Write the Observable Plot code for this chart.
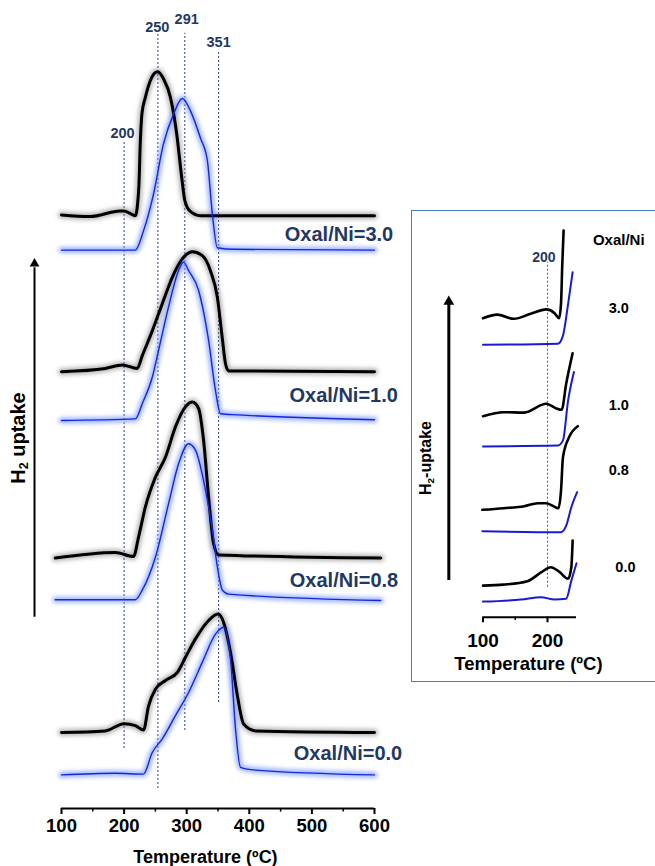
<!DOCTYPE html>
<html><head><meta charset="utf-8">
<script src="https://cdn.jsdelivr.net/npm/d3@7"></script>
<script src="https://cdn.jsdelivr.net/npm/@observablehq/plot@0.6"></script>
<style>
body{margin:0;width:655px;height:866px;overflow:hidden;background:#fff;position:relative;font-family:"Liberation Sans",Arial,sans-serif}
#main{position:absolute;left:0;top:0}
#insetBox{position:absolute;left:411px;top:210px;width:300px;height:472px;border:1px solid #4a7ebb;box-sizing:border-box}
#inset{position:absolute;left:412px;top:210px}
.vlab{position:absolute;font-weight:bold;white-space:nowrap;transform:translate(-50%,-50%) rotate(-90deg);color:#000;line-height:1}
.vlab sub{font-size:0.62em;vertical-align:-0.25em}
</style></head><body>
<div id="main"></div>
<div id="insetBox"></div>
<div id="inset"></div>
<div class="vlab" style="left:19px;top:438px;font-size:20px">H<sub>2</sub> uptake</div>
<div class="vlab" style="left:427px;top:458px;font-size:16px">H<sub>2</sub>-uptake</div>
<script>
// ---------- data ----------
const ratios = ["3.0", "1.0", "0.8", "0.0"];
const mainLabels = ["Oxal/Ni=3.0", "Oxal/Ni=1.0", "Oxal/Ni=0.8", "Oxal/Ni=0.0"];

// main panel: [temperature °C, signal above own baseline]
const mainBlack30 = [[100,0.1],[146,-0.1],[194,0.6],[200,0.6],[218,0],[223.5,3.5],[226,9.4],[228.5,12.75],[234,14.8],[242,16.9],[250,17.9],[254,18.0],[263,17.1],[274,14.8],[284,10.25],[292,4.8],[297,1.9],[305,0.6],[322,0],[600,0]];
const mainBlue30 = [[100,0],[218,0],[231,2.4],[247,7.0],[263,13.3],[279,17.0],[293,18.95],[306,17.4],[322,14.0],[333,11.2],[341,4.5],[349,0.3],[375,0.1],[600,0]];
const mainBlack10 = [[100,0],[170,0.4],[197,0.85],[221,0.4],[229,2.0],[245,5.1],[261,8.5],[277,11.8],[293,14.1],[309,15.0],[325,14.5],[338,12.6],[349,9.3],[356,4.75],[362,1.0],[367,0.1],[600,0]];
const mainBlue10 = [[100,0],[218,0.2],[229,2.1],[245,5.4],[255,8.75],[271,14.2],[287,18.75],[295,19.8],[303,18.75],[319,16.25],[335,10],[346,3.75],[354,0.85],[383,0.7],[600,0.1]];
const mainBlack08 = [[90,0],[186,0.7],[215,0.2],[223,2.6],[234,6.4],[250,10.1],[266,12.6],[282,16.4],[298,18.9],[309,19.5],[319,18.7],[327,14.7],[335,7.6],[343,1.8],[351,0.4],[610,0]];
const mainBlue08 = [[90,0],[218,0],[229,1.2],[250,5.3],[271,12],[287,17],[303,19.5],[314,18.7],[330,13.7],[341,8.7],[349,4.1],[357,1.2],[367,0.7],[610,-0.1]];
const mainBlack00 = [[100,0],[170,0.2],[200,1.1],[218,0.85],[231,0.3],[239,3.3],[250,5.4],[266,6.5],[285,7.5],[298,9.4],[314,11.7],[335,14.0],[350,14.8],[359,13.75],[370,10],[381,4.6],[391,1.05],[410,0.2],[600,0]];
const mainBlue00 = [[100,0],[186,0.2],[231,0.1],[245,2.8],[261,4.5],[282,7.4],[303,10.3],[325,14.1],[346,17.6],[359,18.45],[370,14.5],[378,5.75],[386,0.95],[410,0.6],[600,0]];
const mainBlackOffset = [74.1, 54.6, 31.3, 9.5];
const mainBlueOffset = [69.8, 48.5, 26.1, 4.2];

// reference temperatures marked by dotted lines
const refLineT = [200, 254, 297, 351];
const refLabels = ["200", "250", "291", "351"];

// inset panel (low-temperature zoom)
const insetBlack30 = [[100,0],[122,0.9],[148,-0.15],[174,1.1],[198,2.2],[211,1.25],[218,0],[221,3.7],[223,13.7],[225,21.9]];
const insetBlue30 = [[100,0],[216,0.25],[224,2.3],[232,10.25],[239,18.15]];
const insetBlack10 = [[100,0],[132,1.0],[164,0.9],[198,3.1],[213,2.0],[222,1.6],[229,8.1],[239,15.75]];
const insetBlue10 = [[100,0],[216,0.2],[224,1.5],[232,11.5],[241,18.6]];
const insetBlack08 = [[99,0],[132,0.4],[164,0.9],[185,1.65],[198,1.65],[217,0.4],[221,4.8],[224,13.15],[234,18.3],[247,20.9]];
const insetBlue08 = [[99,0],[221,-0.25],[229,1.4],[237,6],[246,9.75]];
const insetBlack00 = [[100,0],[132,0.25],[169,1.1],[190,3.3],[205,4.6],[218,3.5],[232,1.7],[237,4.6],[239,11.25]];
const insetBlue00 = [[100,0],[159,0.5],[190,1.1],[211,0.5],[229,0.7],[237,5.25],[245,9.6]];
const insetBlackOffset = [74.75, 50.25, 26.85, 7.9];
const insetBlueOffset = [68.1, 42.7, 21.5, 3.9];

const mainTicks = [100, 200, 300, 400, 500, 600];
const mainMinorTicks = [150, 250, 350, 450, 550];
const insetTicks = [100, 200];
const insetMinorTicks = [150];

// ---------- helpers ----------
const stack = (curves, offsets) =>
  curves.flatMap((c, i) => c.map(([T, s]) => ({T, v: offsets[i] + s, ratio: ratios[i]})));

const navy = "#1f3864";
const font = "'Liberation Sans', Arial, sans-serif";

function addBlur(svg) {
  const s = d3.select(svg);
  const f = s.insert("defs", ":first-child").append("filter")
    .attr("id", "glowBlur").attr("x", "-20%").attr("y", "-20%").attr("width", "140%").attr("height", "140%");
  f.append("feGaussianBlur").attr("stdDeviation", 2.2);
  s.selectAll('g[aria-description="glow"]').attr("filter", "url(#glowBlur)");
  return svg;
}

// ---------- main panel ----------
const mainBlack = stack([mainBlack30, mainBlack10, mainBlack08, mainBlack00], mainBlackOffset);
const mainBlue = stack([mainBlue30, mainBlue10, mainBlue08, mainBlue00], mainBlueOffset);
const refTop = [83.5, 96.9, 96.9, 94.5];
const refBottom = [7.5, 2.5, 9.75, 13.25];
const refLabelPos = [[197.5, 84.4], [253, 97.6], [300, 98.6], [351, 95.75]];
const mainLabelPos = [[456.7, 71.7], [464.2, 51.6], [464.7, 28.5], [471.1, 6.84]];

const mainPlot = Plot.plot({
  width: 410, height: 866,
  marginLeft: 61, marginRight: 36, marginTop: 8, marginBottom: 58,
  x: {domain: [100, 600], label: null},
  y: {domain: [0, 100], axis: null},
  style: {fontFamily: font, fontWeight: "bold", background: "transparent", overflow: "visible"},
  marks: [
    Plot.ruleX(refLineT, {x: d => d, y1: (d, i) => refBottom[i], y2: (d, i) => refTop[i], stroke: "#2b3f8f", strokeWidth: 1, strokeDasharray: "2,2"}),
    Plot.line(mainBlack, {x: "T", y: "v", z: "ratio", stroke: "#777", strokeWidth: 7, strokeOpacity: 0.55, curve: "monotone-x", ariaDescription: "glow"}),
    Plot.line(mainBlue, {x: "T", y: "v", z: "ratio", stroke: "#7d9bff", strokeWidth: 6, strokeOpacity: 0.75, curve: "monotone-x", ariaDescription: "glow"}),
    Plot.line(mainBlack, {x: "T", y: "v", z: "ratio", stroke: "#000", strokeWidth: 3, curve: "monotone-x"}),
    Plot.line(mainBlue, {x: "T", y: "v", z: "ratio", stroke: "#1428d8", strokeWidth: 1.4, curve: "monotone-x"}),
    Plot.text(refLabels, {x: (d, i) => refLabelPos[i][0], y: (d, i) => refLabelPos[i][1], text: d => d, fill: navy, fontSize: 14.5, fontWeight: "bold"}),
    Plot.text(mainLabels, {x: (d, i) => mainLabelPos[i][0], y: (d, i) => mainLabelPos[i][1], text: d => d, textAnchor: "start", fill: navy, fontSize: 20, fontWeight: "bold"}),
    Plot.ruleY([0], {x1: 100, x2: 600, stroke: "#000", strokeWidth: 2}),
    Plot.ruleX(mainTicks, {x: d => d, y1: 0, y2: -0.75, stroke: "#000", strokeWidth: 2}),
    Plot.ruleX(mainMinorTicks, {x: d => d, y1: 0, y2: -0.45, stroke: "#000", strokeWidth: 1.5}),
    Plot.axisX({ticks: mainTicks, tickSize: 0, tickPadding: 10.5, fontSize: 18.5, fontWeight: "bold", label: null, tickFormat: d => String(d)}),
    Plot.text(["Temperature (ºC)"], {x: 330, y: -6.1, text: d => d, fontSize: 18, fontWeight: "bold", fill: "#000"}),
    Plot.ruleX([56.9], {x: d => d, y1: 23.9, y2: 67.6, stroke: "#000", strokeWidth: 2}),
    Plot.dot([56.9], {x: d => d, y: 68.1, symbol: "triangle", r: 3.6, fill: "#000", stroke: null})
  ]
});
document.getElementById("main").append(addBlur(mainPlot));

// ---------- inset panel ----------
const insetBlack = stack([insetBlack30, insetBlack10, insetBlack08, insetBlack00], insetBlackOffset);
const insetBlue = stack([insetBlue30, insetBlue10, insetBlue08, insetBlue00], insetBlueOffset);
const insetRatioPos = [[310.5, 77.1], [310.5, 52.9], [310.5, 36.7], [320.9, 12.5]];

const insetPlot = Plot.plot({
  width: 243, height: 472,
  marginLeft: 70.5, marginRight: 79, marginTop: 6.7, marginBottom: 65.3,
  x: {domain: [100, 245], label: null},
  y: {domain: [0, 100], axis: null},
  style: {fontFamily: font, fontWeight: "bold", background: "transparent", overflow: "visible"},
  marks: [
    Plot.ruleX([200], {x: d => d, y1: 7.5, y2: 88.75, stroke: "#4a5f9a", strokeWidth: 1, strokeDasharray: "2,2"}),
    Plot.text(["200"], {x: 194.3, y: 90, text: d => d, fill: navy, fontSize: 14, fontWeight: "bold"}),
    Plot.line(insetBlack, {x: "T", y: "v", z: "ratio", stroke: "#000", strokeWidth: 2.6, curve: "monotone-x"}),
    Plot.line(insetBlue, {x: "T", y: "v", z: "ratio", stroke: "#1a1ad0", strokeWidth: 2, curve: "monotone-x"}),
    Plot.text(["Oxal/Ni"], {x: 310.5, y: 94.35, text: d => d, fontSize: 15, fontWeight: "bold", fill: "#000"}),
    Plot.text(ratios, {x: (d, i) => insetRatioPos[i][0], y: (d, i) => insetRatioPos[i][1], text: d => d, fontSize: 14.5, fontWeight: "bold", fill: "#000"}),
    Plot.ruleY([0], {x1: 100, x2: 245, stroke: "#000", strokeWidth: 2}),
    Plot.ruleX(insetTicks, {x: d => d, y1: 0, y2: -1.4, stroke: "#000", strokeWidth: 2}),
    Plot.ruleX(insetMinorTicks, {x: d => d, y1: 0, y2: -0.8, stroke: "#000", strokeWidth: 1.5}),
    Plot.axisX({ticks: insetTicks, tickSize: 0, tickPadding: 16.5, fontSize: 19, fontWeight: "bold", label: null, tickFormat: d => String(d)}),
    Plot.text(["Temperature (ºC)"], {x: 170.5, y: -11.7, text: d => d, fontSize: 18.5, fontWeight: "bold", fill: "#000"}),
    Plot.ruleX([47], {x: d => d, y1: 9.2, y2: 78.5, stroke: "#000", strokeWidth: 3}),
    Plot.dot([47], {x: d => d, y: 78.9, symbol: "triangle", r: 4, fill: "#000", stroke: null})
  ]
});
document.getElementById("inset").append(insetPlot);
</script>
</body></html>
